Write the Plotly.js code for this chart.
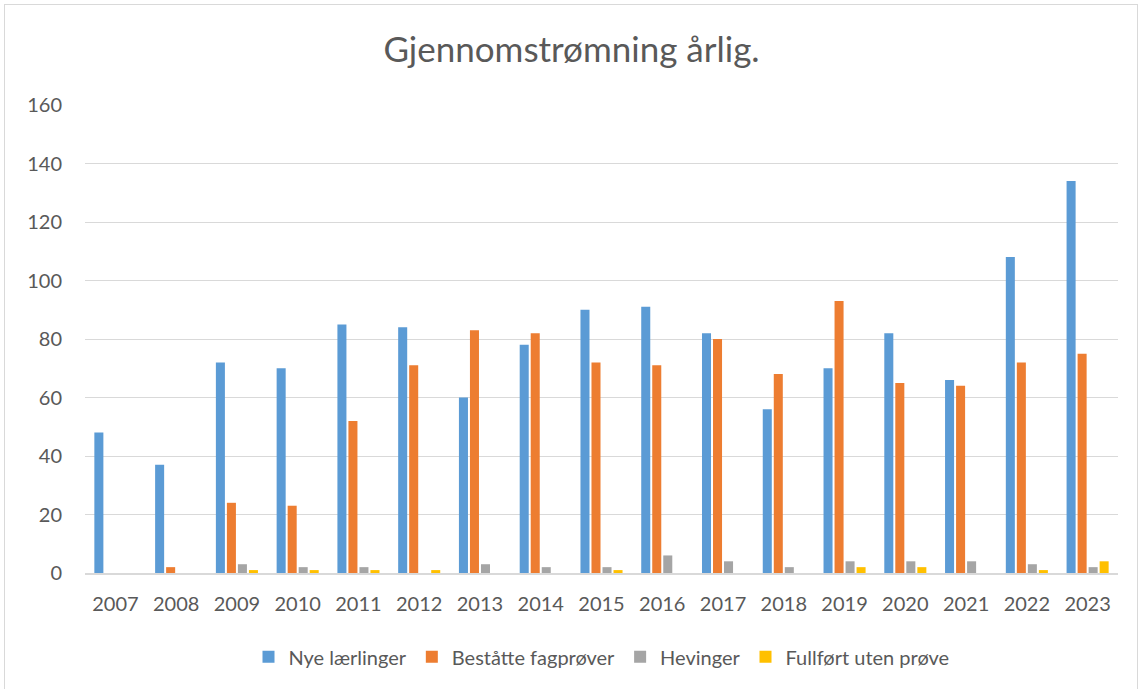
<!DOCTYPE html>
<html><head><meta charset="utf-8">
<script src="https://cdn.plot.ly/plotly-3.0.1.min.js"></script>
<style>
html,body{margin:0;padding:0;background:#fff;}
#wrap{position:relative;width:1143px;height:689px;}
#chart{width:1143px;height:689px;}
#frame{position:absolute;left:4px;top:4px;width:1134px;height:690px;border:1px solid #d9d9d9;pointer-events:none;box-sizing:border-box;}
</style></head>
<body>
<div id="wrap"><div id="chart"></div><div id="frame"></div></div>
<script>
const years = ["2007","2008","2009","2010","2011","2012","2013","2014","2015","2016","2017","2018","2019","2020","2021","2022","2023"];
const nyeLaerlinger = [48,37,72,70,85,84,60,78,90,91,82,56,70,82,66,108,134];
const bestatteFagprover = [0,2,24,23,52,71,83,82,72,71,80,68,93,65,64,72,75];
const hevinger = [0,0,3,2,2,0,3,2,2,6,4,2,4,4,4,3,2];
const fullfortUtenProve = [0,0,1,1,1,1,0,0,1,0,0,0,2,2,0,1,4];
const yTicks = [0,20,40,60,80,100,120,140,160];
const names = ["Nye lærlinger","Beståtte fagprøver","Hevinger","Fullført uten prøve"];

const colors = ["#5B9BD5","#ED7D31","#A5A5A5","#FFC000"];
const series = [nyeLaerlinger, bestatteFagprover, hevinger, fullfortUtenProve];

const traces = series.map((s,i)=>({
  type:'bar', x:years, y:s, name:names[i],
  marker:{color:colors[i]}, hoverinfo:'x+y+name'
}));

const font = "Lato, 'Open Sans', sans-serif";
const layout = {
  width:1143, height:689,
  margin:{l:85, r:25, t:105, b:116},
  paper_bgcolor:'#fff', plot_bgcolor:'#fff',
  font:{family:font, color:'#595959', size:20},
  title:{text:'Gjennomstrømning årlig.', x:0.5, xanchor:'center', y:0.928, yanchor:'middle',
         font:{family:font, size:35, color:'#595959'}},
  barmode:'group', bargap:0.275, bargroupgap:0.18,
  xaxis:{type:'category', showgrid:false, showline:true, linecolor:'#d9d9d9', linewidth:2,
         ticks:'', tickfont:{size:20, color:'#595959'}, ticklabelstandoff:12, fixedrange:true},
  yaxis:{range:[0,160], tickvals:yTicks, ticktext:yTicks.map(String), showgrid:true, gridcolor:'#d9d9d9',
         gridwidth:1, zeroline:false, showline:false, ticks:'', tickfont:{size:20, color:'#595959'},
         ticklabelstandoff:22, fixedrange:true},
  legend:{orientation:'h', x:0.5, xanchor:'center', y:-0.179, yanchor:'middle',
          font:{size:20, color:'#595959'}, itemwidth:30, traceorder:'normal'},
  showlegend:true
};
Plotly.newPlot('chart', traces, layout, {displayModeBar:false, staticPlot:true});
</script>
</body></html>
